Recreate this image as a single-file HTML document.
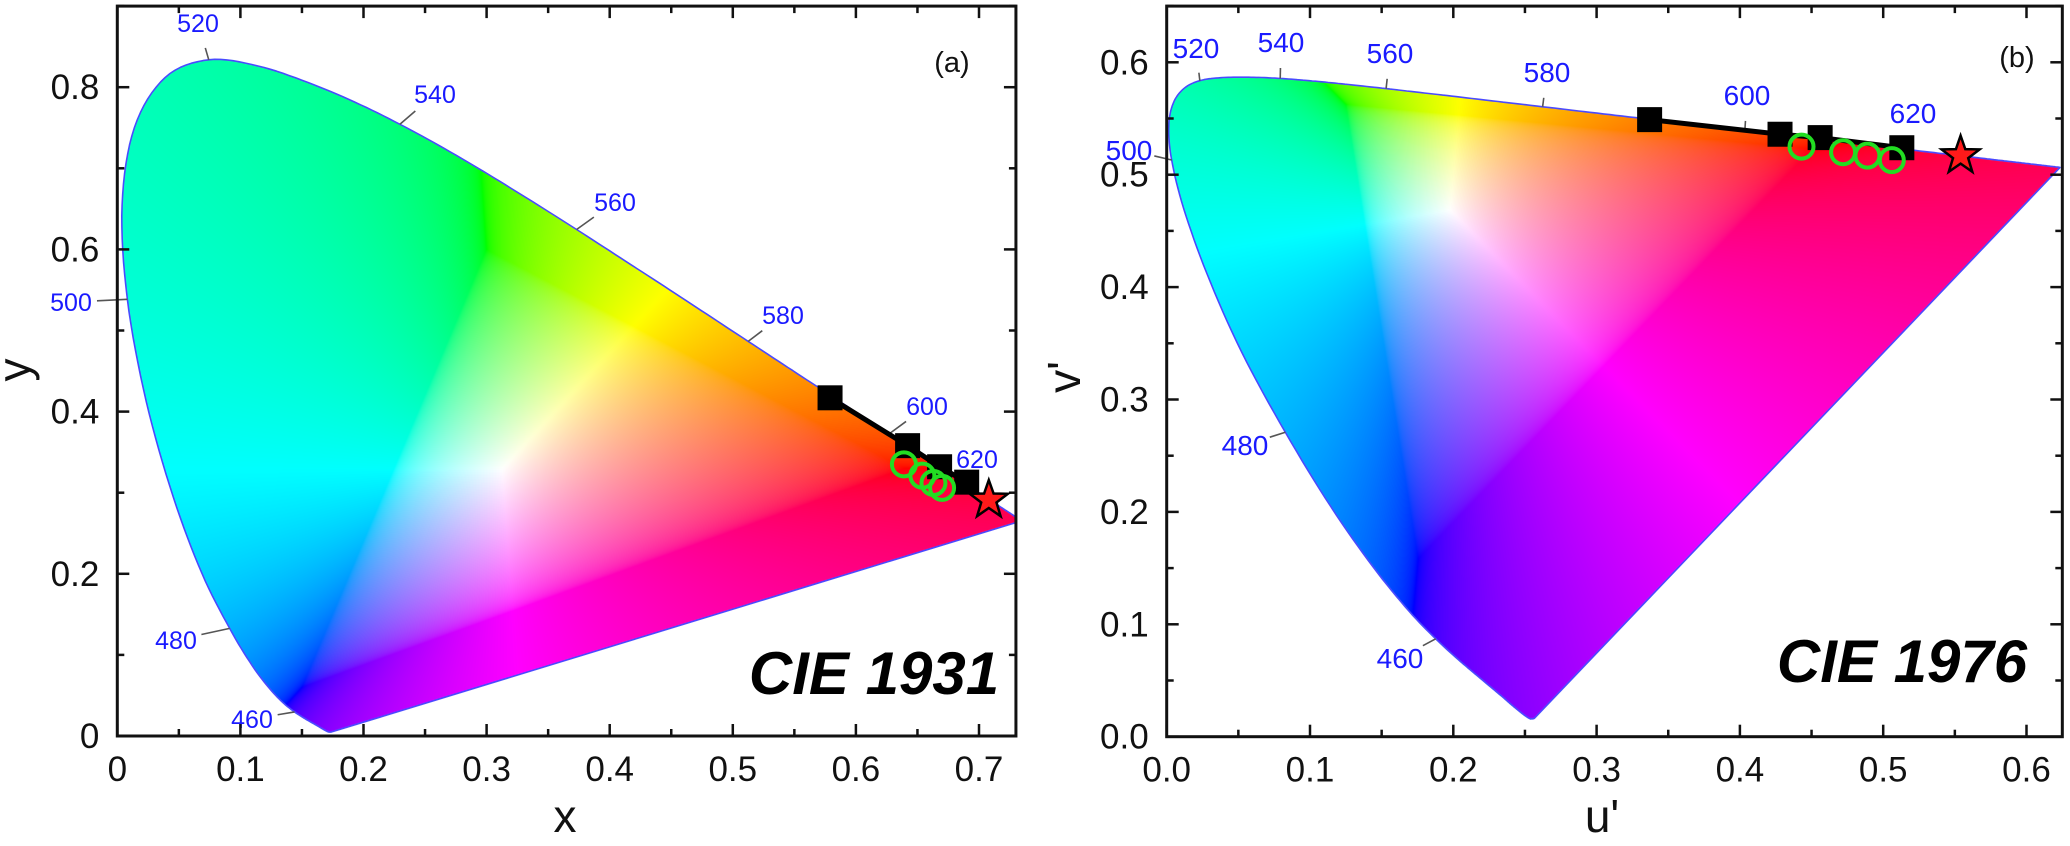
<!DOCTYPE html>
<html><head><meta charset="utf-8">
<style>
html,body{margin:0;padding:0;background:#fff;}
#wrap{position:relative;width:2070px;height:846px;overflow:hidden;}
canvas,svg{position:absolute;left:0;top:0;}
text{font-family:"Liberation Sans",Arial,sans-serif;}
</style></head>
<body>
<div id="wrap">
<canvas id="cv" width="2070" height="846"></canvas>
<svg id="sv" width="2070" height="846" xmlns="http://www.w3.org/2000/svg"></svg>
</div>
<script>
// spectral locus (CIE 1931 xy)
const locusWl=[380,385,390,395,400,405,410,415,420,425,430,435,440,445,450,455,460,465,470,475,480,485,490,495,500,505,510,515,520,525,530,535,540,545,550,555,560,565,570,575,580,585,590,595,600,605,610,615,620,625,630,635,640,645,650,660,670,680,700];
const locusX=[.1741,.1740,.1738,.1736,.1733,.1730,.1726,.1721,.1714,.1703,.1689,.1669,.1644,.1611,.1566,.1510,.1440,.1355,.1241,.1096,.0913,.0687,.0454,.0235,.0082,.0039,.0139,.0389,.0743,.1142,.1547,.1929,.2296,.2658,.3016,.3373,.3731,.4087,.4441,.4788,.5125,.5448,.5752,.6029,.6270,.6482,.6658,.6801,.6915,.7006,.7079,.7140,.7190,.7230,.7260,.7300,.7320,.7334,.7347];
const locusY=[.0050,.0050,.0049,.0049,.0048,.0048,.0048,.0048,.0051,.0058,.0069,.0086,.0109,.0138,.0177,.0227,.0297,.0399,.0578,.0868,.1327,.2007,.2950,.4127,.5384,.6548,.7502,.8120,.8338,.8262,.8059,.7816,.7543,.7243,.6923,.6589,.6245,.5896,.5547,.5202,.4866,.4544,.4242,.3965,.3725,.3514,.3340,.3197,.3083,.2993,.2920,.2859,.2809,.2770,.2740,.2700,.2680,.2666,.2653];
// labelled wavelengths
const labelWl=[460,480,500,520,540,560,580,600,620];
// CIE 1931 data
const sqX=[0.579,0.642,0.668,0.690];
const sqY=[0.417,0.358,0.332,0.313];
const ciX=[0.639,0.654,0.663,0.670];
const ciY=[0.335,0.321,0.312,0.306];
const starX=[0.708];
const starY=[0.291];
// CIE 1976 data
const sqU=[0.337,0.428,0.456,0.513];
const sqV=[0.549,0.536,0.533,0.524];
const ciU=[0.443,0.472,0.489,0.506];
const ciV=[0.525,0.520,0.517,0.513];
const starU=[0.554];
const starV=[0.517];
// ticks
const lxTicks=[0,0.1,0.2,0.3,0.4,0.5,0.6,0.7];
const lxLabels=["0","0.1","0.2","0.3","0.4","0.5","0.6","0.7"];
const lyTicks=[0,0.2,0.4,0.6,0.8];
const lyLabels=["0","0.2","0.4","0.6","0.8"];
const ruTicks=[0,0.1,0.2,0.3,0.4,0.5,0.6];
const ruLabels=["0.0","0.1","0.2","0.3","0.4","0.5","0.6"];
const rvTicks=[0,0.1,0.2,0.3,0.4,0.5,0.6];
const rvLabels=["0.0","0.1","0.2","0.3","0.4","0.5","0.6"];

// layout
const L={x0:117.3,y0:736,kx:1231,ky:811,xmax:0.73,ymax:0.9};
const R={x0:1166.7,y0:736.7,kx:1433,ky:1124,xmax:0.625,ymax:0.65};
const sx=v=>L.x0+v*L.kx, sy=v=>L.y0-v*L.ky;
const su=v=>R.x0+v*R.kx, sv=v=>R.y0-v*R.ky;
const toUV=(x,y)=>{const d=-2*x+12*y+3;return [4*x/d,9*y/d];};
const toXY=(u,v)=>{const d=6*u-16*v+12;return [9*u/d,4*v/d];};
const leftLabelPos={460:[252,719],480:[176,640],500:[71,302],520:[198,23],540:[435,94],560:[615,202],580:[783,315],600:[927,406],620:[977,459]};
const rightLabelPos={460:[1400,658],480:[1245,445],500:[1129,150],520:[1196,48],540:[1281,42],560:[1390,53],580:[1547,72],600:[1747,95],620:[1913,113]};

function gam(c){c=Math.max(0,c);return c<=0.0031308?12.92*c:1.055*Math.pow(c,1/2.4)-0.055;}
function chromaRGB(x,y){
  if(y<=0.0005) y=0.0005;
  const X=x/y,Y=1,Z=(1-x-y)/y;
  let r=3.2406*X-1.5372*Y-0.4986*Z, g=-0.9689*X+1.8758*Y+0.0415*Z, b=0.0557*X-0.2040*Y+1.0570*Z;
  const mn=Math.min(r,g,b); if(mn<0){r-=mn;g-=mn;b-=mn;}
  const m=Math.max(r,g,b)||1;
  return [gam(r/m)*255,gam(g/m)*255,gam(b/m)*255];
}
// smooth the locus with Catmull-Rom
function smooth(pts){
  const out=[];
  for(let i=0;i<pts.length-1;i++){
    const p0=pts[Math.max(0,i-1)],p1=pts[i],p2=pts[i+1],p3=pts[Math.min(pts.length-1,i+2)];
    for(let t=0;t<1;t+=0.125){const t2=t*t,t3=t2*t;
      out.push([0,1].map(k=>0.5*((2*p1[k])+(-p0[k]+p2[k])*t+(2*p0[k]-5*p1[k]+4*p2[k]-p3[k])*t2+(-p0[k]+3*p1[k]-3*p2[k]+p3[k])*t3)));}
  }
  out.push(pts[pts.length-1]);return out;
}
const cv=document.getElementById('cv');const ctx=cv.getContext('2d');
function fillGamut(x0,y0,x1,y1,pixToXY,pathPts){
  const w=Math.ceil(x1-x0),h=Math.ceil(y1-y0);
  const off=document.createElement('canvas');off.width=w;off.height=h;
  const oc=off.getContext('2d');const id=oc.createImageData(w,h);const d=id.data;
  for(let j=0;j<h;j++)for(let i=0;i<w;i++){
    const p=pixToXY(x0+i+0.5,y0+j+0.5);const c=chromaRGB(p[0],p[1]);
    const k=(j*w+i)*4;d[k]=c[0];d[k+1]=c[1];d[k+2]=c[2];d[k+3]=255;}
  oc.putImageData(id,0,0);
  ctx.save();ctx.beginPath();
  pathPts.forEach((p,i)=>i?ctx.lineTo(p[0],p[1]):ctx.moveTo(p[0],p[1]));
  ctx.closePath();ctx.clip();ctx.drawImage(off,x0,y0);ctx.restore();
}
const leftPts=smooth(locusX.map((x,i)=>[sx(x),sy(locusY[i])]));
const rightPts=smooth(locusX.map((x,i)=>{const uv=toUV(x,locusY[i]);return [su(uv[0]),sv(uv[1])];}));
ctx.save();ctx.beginPath();ctx.rect(sx(0),sy(L.ymax),sx(L.xmax)-sx(0),sy(0)-sy(L.ymax));ctx.clip();
fillGamut(sx(0),sy(L.ymax),sx(L.xmax),sy(0),(px,py)=>[(px-L.x0)/L.kx,(L.y0-py)/L.ky],leftPts);
ctx.restore();
ctx.save();ctx.beginPath();ctx.rect(su(0),sv(R.ymax),su(R.xmax)-su(0),sv(0)-sv(R.ymax));ctx.clip();
fillGamut(su(0),sv(R.ymax),su(R.xmax),sv(0),(px,py)=>toXY((px-R.x0)/R.kx,(R.y0-py)/R.ky),rightPts);
ctx.restore();

const NS="http://www.w3.org/2000/svg";const svg=document.getElementById('sv');
function el(tag,attrs,parent,txt){const e=document.createElementNS(NS,tag);for(const k in attrs)e.setAttribute(k,attrs[k]);if(txt!==undefined)e.textContent=txt;(parent||svg).appendChild(e);return e;}

function panel(P,fx,fy,xT,xL,yT,yL,minorX,minorY,pts,labelPos,wlToPix,name,lfs){
  const g=el('g',{});
  
  
  const clip=el('clipPath',{id:'clip-'+name},g);
  el('rect',{x:fx(0),y:fy(P.ymax),width:fx(P.xmax)-fx(0),height:fy(0)-fy(P.ymax)},clip);
  const outline=el('polygon',{points:pts.map(p=>p[0].toFixed(1)+','+p[1].toFixed(1)).join(' '),fill:'none',stroke:'#4a4aff','stroke-width':1.6,'stroke-linejoin':'round','clip-path':'url(#clip-'+name+')'},g);
  
  
  labelWl.forEach(w=>{
    const p=wlToPix(w);const lp=labelPos[w];
    const dx=lp[0]-p[0],dy=lp[1]-p[1];const dist=Math.hypot(dx,dy);const len=Math.max(8,dist-26);
    el('line',{x1:p[0],y1:p[1],x2:p[0]+dx/dist*len,y2:p[1]+dy/dist*len,stroke:'#555','stroke-width':1.6},g);
    const t=el('text',{x:lp[0],y:lp[1]+lfs*0.36,'text-anchor':'middle','font-size':lfs,fill:'#1a1aff'},g,String(w));
    
    
  });
  const X0=fx(0),X1=fx(P.xmax),Y0=fy(0),Y1=fy(P.ymax);
  const tg=el('g',{stroke:'#111','stroke-width':2.5},g);
  for(let v=0;v<=P.xmax+1e-9;v+=minorX){const maj=Math.abs(v/ (minorX*2)-Math.round(v/(minorX*2)))<1e-6;const l=maj?12:7;
    el('line',{x1:fx(v),y1:Y0,x2:fx(v),y2:Y0-l},tg);el('line',{x1:fx(v),y1:Y1,x2:fx(v),y2:Y1+l},tg);}
  for(let v=0;v<=P.ymax+1e-9;v+=minorY){const maj=Math.abs(v/(minorY*2)-Math.round(v/(minorY*2)))<1e-6;const l=maj?12:7;
    el('line',{x1:X0,y1:fy(v),x2:X0+l,y2:fy(v)},tg);el('line',{x1:X1,y1:fy(v),x2:X1-l,y2:fy(v)},tg);}
  const fr=el('rect',{x:X0,y:Y1,width:X1-X0,height:Y0-Y1,fill:'none',stroke:'#111','stroke-width':3},g);
  
  
  xT.forEach((v,i)=>{const t=el('text',{x:fx(v),y:Y0+45,'text-anchor':'middle','font-size':35,fill:'#111'},g,xL[i]);
    
    });
  yT.forEach((v,i)=>{const t=el('text',{x:X0-18,y:fy(v)+12,'text-anchor':'end','font-size':35,fill:'#111'},g,yL[i]);
    
    });
  return g;
}
const lg=panel(L,sx,sy,lxTicks,lxLabels,lyTicks,lyLabels,0.05,0.1,leftPts,leftLabelPos,
  w=>{const i=locusWl.indexOf(w);return [sx(locusX[i]),sy(locusY[i])];},'cie1931',25);
const rg=panel(R,su,sv,ruTicks,ruLabels,rvTicks,rvLabels,0.05,0.05,rightPts,rightLabelPos,
  w=>{const i=locusWl.indexOf(w);const uv=toUV(locusX[i],locusY[i]);return [su(uv[0]),sv(uv[1])];},'cie1976',28);

function series(g,fx,fy,sX,sY,cX,cY,stX,stY,name){
  el('polyline',{points:sX.map((v,i)=>fx(v)+','+fy(sY[i])).join(' '),fill:'none',stroke:'#000','stroke-width':5},g);
  sX.forEach((v,i)=>{const r=el('rect',{x:fx(v)-12.5,y:fy(sY[i])-12.5,width:25,height:25,fill:'#000'},g);
    
    });
  cX.forEach((v,i)=>{const c=el('circle',{cx:fx(v),cy:fy(cY[i]),r:12,fill:'none',stroke:'#22dd22','stroke-width':4},g);
    
    });
  stX.forEach((v,i)=>{const cx=fx(v),cy=fy(stY[i]);let p=[];
    for(let k=0;k<10;k++){const a=-Math.PI/2+k*Math.PI/5;const rr=k%2?8:20;p.push((cx+rr*Math.cos(a)).toFixed(1)+','+(cy+rr*Math.sin(a)).toFixed(1));}
    const s=el('polygon',{points:p.join(' '),fill:'#ff1a1a',stroke:'#000','stroke-width':2.5},g);
    
    });
}
series(lg,sx,sy,sqX,sqY,ciX,ciY,starX,starY,'cie1931');
series(rg,su,sv,sqU,sqV,ciU,ciV,starU,starV,'cie1976');

function txt(x,y,s,attrs,name){const t=el('text',Object.assign({x:x,y:y,fill:'#111'},attrs),svg,s);
  
  return t;}
txt(565,832,'x',{'font-size':46,'text-anchor':'middle'},'x-axis-title');
txt(30,370,'y',{'font-size':46,'text-anchor':'middle',transform:'rotate(-90 30 370)'},'y-axis-title');
txt(1602,832,"u'",{'font-size':46,'text-anchor':'middle'},'u-axis-title');
txt(1080,377,"v'",{'font-size':46,'text-anchor':'middle',transform:'rotate(-90 1080 377)'},'v-axis-title');
txt(952,72,'(a)',{'font-size':29,'text-anchor':'middle'},'panel-label-a');
txt(2017,67,'(b)',{'font-size':29,'text-anchor':'middle'},'panel-label-b');
txt(874,694,'CIE 1931',{'font-size':60,'font-weight':'bold','font-style':'italic','text-anchor':'middle',fill:'#000'},'cie1931-title');
txt(1902,682,'CIE 1976',{'font-size':60,'font-weight':'bold','font-style':'italic','text-anchor':'middle',fill:'#000'},'cie1976-title');
</script>
</body></html>
